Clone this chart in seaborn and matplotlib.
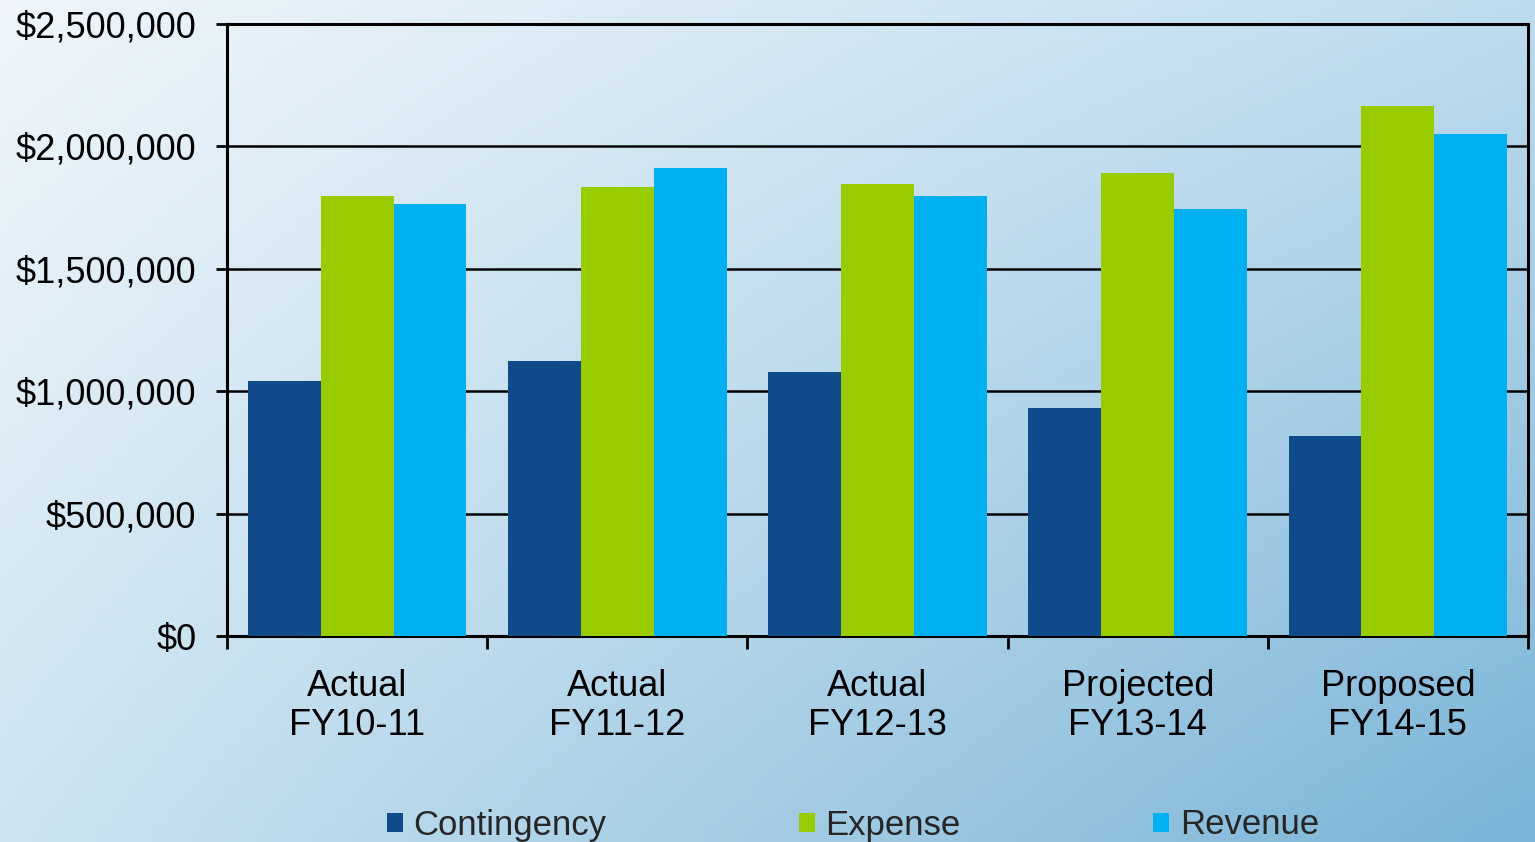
import numpy as np
import pandas as pd
import matplotlib
matplotlib.use("Agg")
import matplotlib.pyplot as plt
from matplotlib.patches import Patch
from matplotlib.ticker import FuncFormatter, FixedLocator
import seaborn as sns

# Budget figures by fiscal year
periods = ["Actual\nFY10-11", "Actual\nFY11-12", "Actual\nFY12-13",
           "Projected\nFY13-14", "Proposed\nFY14-15"]
contingency = [1042000, 1123000, 1078000, 931000, 817000]
expense = [1797000, 1834000, 1846000, 1891000, 2165000]
revenue = [1765000, 1912000, 1797000, 1744000, 2051000]
series_names = ["Contingency", "Expense", "Revenue"]
series_colors = ["#0f4a8a", "#99cc00", "#00b0f0"]
y_ticks = [0, 500000, 1000000, 1500000, 2000000, 2500000]

df = pd.DataFrame({
    "period": periods * 3,
    "series": [s for s in series_names for _ in periods],
    "amount": contingency + expense + revenue,
})

sns.set_theme(style="white")
plt.rcParams["font.family"] = ["Liberation Sans", "DejaVu Sans"]

fig = plt.figure(figsize=(15.35, 8.42), dpi=100)

# Soft blue gradient behind the whole figure
bg = fig.add_axes([0, 0, 1, 1], zorder=-10)
ny, nx = 200, 300
u = np.linspace(0, 1, nx)[None, :, None]
v = np.linspace(0, 1, ny)[:, None, None]
tl = np.array([240, 246, 251]) / 255
tr = np.array([190, 220, 238]) / 255
bl = np.array([204, 228, 241]) / 255
br = np.array([122, 180, 215]) / 255
img = (1 - u) * (1 - v) * tl + u * (1 - v) * tr + (1 - u) * v * bl + u * v * br
bg.imshow(img, aspect="auto", extent=[0, 1, 0, 1], origin="upper")
bg.axis("off")

ax = fig.add_axes([227 / 1535, 1 - 636 / 842, (1528 - 227) / 1535, (636 - 24) / 842])
ax.patch.set_alpha(0)

sns.barplot(data=df, x="period", y="amount", hue="series",
            palette=series_colors, hue_order=series_names,
            width=0.84, gap=0, saturation=1, ax=ax, legend=False,
            edgecolor="none", zorder=3)

ax.set_ylim(0, 2500000)
ax.set_xlim(-0.5, len(periods) - 0.5)
ax.set_yticks(y_ticks)
ax.yaxis.set_major_formatter(FuncFormatter(lambda v, p: f"${v:,.0f}"))
ax.grid(axis="y", color="black", linewidth=1.8, zorder=1)
ax.set_axisbelow(True)
ax.set_xlabel("")
ax.set_ylabel("")

for sp in ax.spines.values():
    sp.set_visible(True)
    sp.set_color("black")
    sp.set_linewidth(2.2)

ax.tick_params(axis="y", which="major", length=8, width=2, color="black",
               direction="out", left=True, pad=14, labelsize=26, labelcolor="black")
ax.tick_params(axis="x", which="major", length=0, pad=24, labelsize=26,
               labelcolor="black")
ax.xaxis.set_minor_locator(FixedLocator(np.arange(-0.5, len(periods) + 0.5, 1)))
ax.tick_params(axis="x", which="minor", length=9, width=2, color="black",
               direction="out", bottom=True)
for lbl in ax.get_xticklabels():
    lbl.set_linespacing(1.15)

handles = [Patch(facecolor=c, edgecolor="none") for c in series_colors]
fig.legend(handles, series_names, ncol=3, loc="center",
           bbox_to_anchor=(0.5557, 1 - 825 / 842), frameon=False,
           fontsize=25, handlelength=0.46, handleheight=0.46,
           handletextpad=0.3, columnspacing=5.55)

fig.savefig("out.png", dpi=100)
